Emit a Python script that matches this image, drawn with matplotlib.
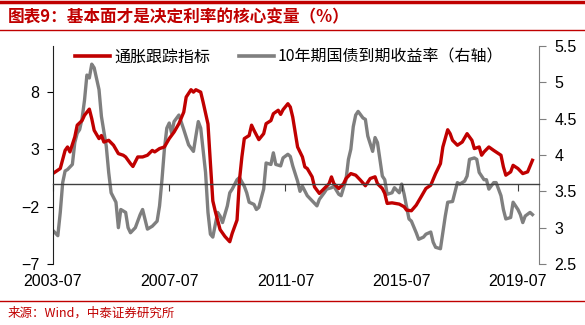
import matplotlib
matplotlib.use('Agg')
import matplotlib.pyplot as plt
from matplotlib.lines import Line2D

plt.rcParams['font.family'] = ['Liberation Sans', 'Noto Sans CJK SC', 'DejaVu Sans']

# months counted from 2003-07
red_month = [0, 3, 5, 6, 7, 9, 10, 12, 13, 15, 16, 17, 19, 20, 21, 23, 25, 27, 29, 30,
             32, 33, 35, 37, 39, 41, 42, 44, 46, 48, 50, 52, 54, 55, 57, 58, 59, 61, 62,
             64, 65, 66, 67, 69, 71, 73, 74, 76, 77, 78, 79, 81, 82, 83, 85, 87, 88, 90,
             91, 93, 94, 95, 97, 98, 99, 101, 103, 104, 105, 107, 108, 110, 112, 114, 115,
             116, 118, 120, 121, 123, 125, 127, 129, 131, 133, 134, 136, 137, 138, 140, 143,
             145, 146, 148, 150, 152, 154, 156, 158, 160, 161, 163, 164, 165, 167, 169, 171,
             173, 174, 176, 177, 178, 180, 182, 185, 186, 187, 189, 190, 192, 194, 196, 198]
red_vals = [0.89, 1.32, 2.9, 3.2, 2.77, 4.07, 5.1, 5.5, 5.96, 6.5, 5.67, 4.65, 3.93, 4.2, 3.63,
            3.78, 3.35, 2.62, 2.48, 2.33, 1.75, 1.5, 2.33, 2.33, 2.48, 2.9, 2.77, 3.06, 3.2,
            3.93, 4.5, 5.23, 6.24, 7.55, 8.19, 7.98, 8.19, 7.98, 7.1, 5.2, 1.8, -1.5, -2.4,
            -4.0, -4.6, -5.06, -4.33, -3.17, 0.3, 2.33, 3.93, 4.2, 5.1, 4.65, 3.84, 4.36, 5.23,
            5.5, 6.1, 6.4, 6.04, 6.45, 6.97, 6.68, 5.8, 3.2, 2.33, 1.46, 1.32, 0.6, -0.28,
            -0.85, -0.42, 0.0, 0.59, 0.0, -0.42, 0.0, 0.45, 0.88, 0.74, 0.3, -0.18, 0.45, 0.6,
            0.0, -0.42, -0.85, -1.72, -1.67, -1.78, -2.01, -2.3, -2.36, -1.87, -1.15, -0.42,
            -0.13, 0.88, 1.75, 3.2, 4.7, 4.36, 3.78, 3.35, 3.63, 4.36, 3.78, 3.06, 3.2, 2.48,
            2.77, 3.2, 2.9, 2.48, 1.46, 0.74, 1.03, 1.6, 1.32, 0.88, 1.03, 2.04]

gray_month = [0, 2, 3, 4, 5, 6, 8, 9, 10, 11, 12, 13, 14, 15, 16, 17, 19, 20, 22, 23, 24, 26,
              27, 28, 30, 31, 32, 34, 35, 36, 37, 39, 41, 43, 44, 45, 46, 47, 48, 49, 50, 52,
              54, 56, 58, 59, 60, 61, 63, 64, 65, 66, 68, 69, 70, 72, 73, 74, 76, 77, 79, 80,
              81, 83, 84, 85, 87, 88, 90, 91, 92, 94, 95, 97, 98, 99, 101, 102, 103, 105, 107,
              109, 110, 112, 113, 115, 116, 118, 119, 121, 122, 123, 124, 125, 126, 128, 129,
              130, 132, 133, 134, 136, 137, 138, 140, 141, 143, 144, 145, 147, 148, 150, 151,
              153, 154, 156, 157, 158, 160, 161, 162, 163, 165, 167, 168, 170, 171, 172, 174,
              175, 176, 178, 179, 180, 182, 183, 185, 186, 187, 189, 190, 192, 193, 194, 195,
              197, 198]
gray_vals = [2.96, 2.89, 3.21, 3.62, 3.78, 3.8, 3.87, 4.17, 4.3, 4.35, 4.5, 4.75, 5.1, 5.06,
             5.25, 5.2, 4.9, 4.53, 4.12, 3.76, 3.48, 3.35, 3.0, 3.25, 3.21, 3.0, 2.93, 3.0,
             3.09, 3.18, 3.25, 2.98, 3.02, 3.09, 3.3, 3.66, 4.08, 4.37, 4.44, 4.3, 4.46, 4.55,
             4.35, 4.14, 4.05, 4.26, 4.46, 4.37, 3.76, 3.21, 2.91, 2.87, 3.21, 3.16, 3.07, 3.3,
             3.48, 3.53, 3.66, 3.69, 3.57, 3.48, 3.35, 3.32, 3.25, 3.28, 3.53, 3.89, 3.87, 4.03,
             3.87, 3.85, 3.96, 4.01, 3.98, 3.85, 3.64, 3.5, 3.57, 3.44, 3.37, 3.3, 3.39, 3.48,
             3.53, 3.55, 3.57, 3.46, 3.44, 3.66, 3.94, 4.08, 4.39, 4.55, 4.6, 4.51, 4.49, 4.26,
             4.05, 4.24, 4.17, 3.71, 3.66, 3.46, 3.48, 3.55, 3.48, 3.6, 3.46, 3.12, 3.09, 2.93,
             2.84, 2.87, 2.91, 2.94, 2.8, 2.73, 2.71, 2.93, 3.16, 3.35, 3.36, 3.62, 3.6, 3.64,
             3.71, 3.94, 3.96, 3.94, 3.76, 3.66, 3.66, 3.53, 3.62, 3.62, 3.44, 3.25, 3.12, 3.14,
             3.35, 3.25, 3.18, 3.07, 3.16, 3.21, 3.18]

tick_month = [0, 48, 96, 144, 192]
tick_labels = ['2003-07', '2007-07', '2011-07', '2015-07', '2019-07']
left_ticks = [-7, -2, 3, 8]
right_ticks = [2.5, 3, 3.5, 4, 4.5, 5, 5.5]

RED = '#C00000'
GRAY = '#7F7F7F'

fig = plt.figure(figsize=(5.85, 3.25), dpi=100)
ax = fig.add_axes([53 / 585, 1 - 264 / 325, 486 / 585, 218 / 325])
ax2 = ax.twinx()

ax2.plot(gray_month, gray_vals, color=GRAY, lw=2.4, solid_joinstyle='round')
ax.plot(red_month, red_vals, color=RED, lw=2.4, solid_joinstyle='round')
ax.set_zorder(ax2.get_zorder() + 1)
ax.patch.set_visible(False)

ax.set_xlim(0, 200.7)
ax.set_ylim(-7, 12)
ax2.set_ylim(2.5, 5.5)

# zero line carries the x ticks, labels sit under the plot
ax.spines['bottom'].set_position(('data', 0))
ax.spines['bottom'].set_color('#404040')
ax.spines['bottom'].set_linewidth(1.0)
ax.set_xticks(tick_month)
ax.tick_params(axis='x', direction='out', length=5, color='#404040', labelbottom=False)
sec = ax.secondary_xaxis(0)
sec.set_xticks(tick_month)
sec.set_xticklabels(tick_labels)
sec.tick_params(length=0, pad=7, labelsize=11.5)
sec.spines['bottom'].set_visible(False)

ax.set_yticks(left_ticks)
ax.tick_params(axis='y', direction='out', length=4, labelsize=11.5, pad=6)
ax.spines['left'].set_color('#202020')
for s in ['top', 'right']:
    ax.spines[s].set_visible(False)

ax2.set_yticks(right_ticks)
ax2.set_yticklabels(['2.5', '3', '3.5', '4', '4.5', '5', '5.5'])
ax2.tick_params(axis='y', direction='out', length=5, color=GRAY, labelsize=11.5, pad=6)
ax2.spines['right'].set_color(GRAY)
for s in ['top', 'left', 'bottom']:
    ax2.spines[s].set_visible(False)

handles = [Line2D([], [], color=RED, lw=2.6), Line2D([], [], color=GRAY, lw=2.6)]
ax.legend(handles, ['通胀跟踪指标', '10年期国债到期收益率（右轴）'], ncol=2, frameon=False,
          loc='center', bbox_to_anchor=(0.486, 0.95), handlelength=2.2, columnspacing=1.8,
          handletextpad=0.25, prop={'family': ['Noto Sans CJK SC'], 'size': 11.5})

# header and footer
fig.add_artist(Line2D([0, 1], [1 - 2 / 325, 1 - 2 / 325], color=RED, lw=2.5))
fig.add_artist(Line2D([0, 1], [1 - 30 / 325, 1 - 30 / 325], color=RED, lw=1.0))
fig.add_artist(Line2D([0, 1], [1 - 301 / 325, 1 - 301 / 325], color=RED, lw=1.0))
fig.text(8 / 585, 1 - 17 / 325, '图表9：基本面才是决定利率的核心变量（%）', color=RED,
         fontsize=12, fontweight='bold', va='center', ha='left',
         family=['Noto Sans CJK SC', 'DejaVu Sans'])
fig.text(8 / 585, 1 - 313 / 325, '来源：Wind，中泰证券研究所', color=RED, fontsize=9,
         va='center', ha='left', family=['Noto Sans CJK SC', 'DejaVu Sans'])

fig.savefig('out.png', dpi=100)
